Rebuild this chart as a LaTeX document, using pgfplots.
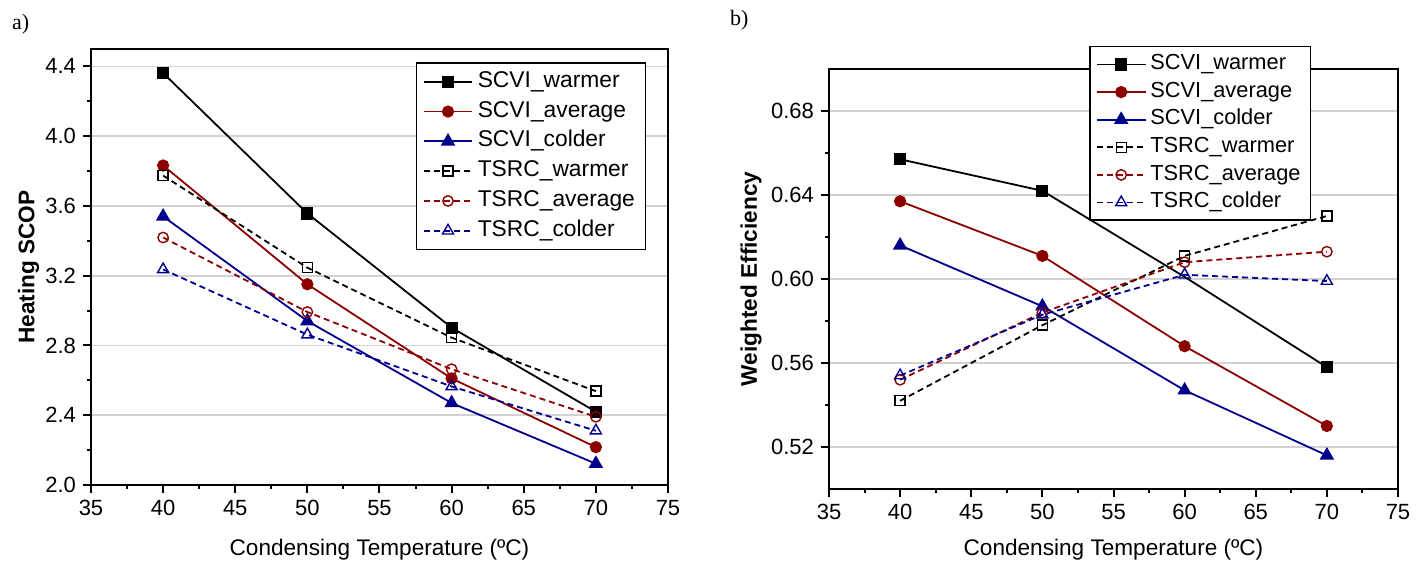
\documentclass[border=0pt]{standalone}
\usepackage{pgfplots}
\pgfplotsset{compat=1.18}
\usepackage{fontspec}
\setmainfont{Liberation Sans}
\newfontfamily\seriffont{Liberation Serif}
\definecolor{dred}{RGB}{140,0,0}
\definecolor{dblue}{RGB}{0,0,140}
\newcommand\tickfont{\fontsize{11}{13}\selectfont}
\newcommand\labfont{\fontsize{11.3}{13}\selectfont}

\pgfplotsset{
 myax/.style={
  scale only axis,
  anchor=south west,
  xmin=35,xmax=75, xtick={35,40,...,75},
  minor x tick num=1, minor y tick num=1,
  tick align=outside, xtick pos=bottom, ytick pos=left,
  major tick length=4pt, minor tick length=2pt,
  axis line style={line width=1.2pt},
  every tick/.style={black,line width=1pt},
  ymajorgrids, major grid style={gray!35,line width=0.8pt},
  xticklabel style={font=\tickfont},
  /pgf/number format/assume math mode=true,
  legend cell align=left,
  legend image code/.code={\draw[mark repeat=2,mark phase=2] plot coordinates {(0cm,0cm) (0.43cm,0cm) (0.86cm,0cm)};},
 },
 sw/.style={black, solid, line width=0.9pt, mark=square*, mark size=2.6pt},
 sa/.style={dred, solid, line width=0.9pt, mark=*, mark size=2.6pt},
 sc/.style={dblue, solid, line width=0.9pt, mark=triangle*, mark size=3.3pt},
 tw/.style={black, line width=0.9pt, dash pattern=on 3pt off 2pt, mark=square, mark size=2.5pt, mark options={solid,fill=white,line width=0.7pt}},
 ta/.style={dred, line width=0.9pt, dash pattern=on 3pt off 2pt, mark=o, mark size=2.6pt, mark options={solid,fill=white,line width=0.7pt}},
 tc/.style={dblue, line width=0.9pt, dash pattern=on 3pt off 2pt, mark=triangle, mark size=3.2pt, mark options={solid,fill=white,line width=0.7pt}},
}

\begin{document}
\begin{tikzpicture}
\useasboundingbox (0,0) rectangle (713pt,282.5pt);
\node[anchor=west,font=\seriffont\fontsize{11}{12}\selectfont] at (2.5pt,270.5pt) {a)};
\node[anchor=west,font=\seriffont\fontsize{11}{12}\selectfont] at (361.5pt,272.5pt) {b)};

\begin{axis}[myax,
  at={(45.5pt,40pt)}, width=288.5pt, height=218pt,
  ymin=2.0, ymax=4.5, ytick={2.0,2.4,...,4.41},
  yticklabel style={font=\tickfont,/pgf/number format/.cd,fixed,fixed zerofill,precision=1},
  xlabel={Condensing Temperature (ºC)},
  ylabel={Heating SCOP},
  every axis y label/.style={at={(axis description cs:-0.108,0.5)},rotate=90,anchor=center,font=\labfont\bfseries},
  every axis x label/.style={at={(axis description cs:0.5,-0.149)},anchor=center,font=\labfont},
  legend style={at={(axis description cs:0.563,0.970)},anchor=north west,
    draw=black,line width=0.8pt,fill=white,
    font=\fontsize{11.4}{13}\selectfont, row sep=0pt,
    nodes={text height=8pt,text depth=2.5pt,inner sep=2.2pt}},
]
\addplot[sw] coordinates {(40,4.362)(50,3.557)(60,2.902)(70,2.420)};
\addplot[sa] coordinates {(40,3.832)(50,3.151)(60,2.611)(70,2.217)};
\addplot[sc] coordinates {(40,3.540)(50,2.940)(60,2.470)(70,2.122)};
\addplot[tw] coordinates {(40,3.774)(50,3.246)(60,2.845)(70,2.538)};
\addplot[ta] coordinates {(40,3.419)(50,2.992)(60,2.664)(70,2.391)};
\addplot[tc] coordinates {(40,3.236)(50,2.862)(60,2.565)(70,2.311)};
\legend{SCVI\_warmer,SCVI\_average,SCVI\_colder,TSRC\_warmer,TSRC\_average,TSRC\_colder}
\end{axis}

\begin{axis}[myax,
  at={(414.5pt,38pt)}, width=284.5pt, height=210pt,
  ymin=0.50, ymax=0.70, ytick={0.52,0.56,...,0.681},
  yticklabel style={font=\tickfont,/pgf/number format/.cd,fixed,fixed zerofill,precision=2},
  xlabel={Condensing Temperature (ºC)},
  ylabel={Weighted Efficiency},
  every axis y label/.style={at={(axis description cs:-0.137,0.5)},rotate=90,anchor=center,font=\labfont\bfseries},
  every axis x label/.style={at={(axis description cs:0.5,-0.145)},anchor=center,font=\labfont},
  legend style={at={(axis description cs:0.457,1.055)},anchor=north west,
    draw=black,line width=0.8pt,fill=white,
    font=\fontsize{10.9}{12}\selectfont, row sep=0pt,
    nodes={text height=7.6pt,text depth=2.4pt,inner sep=1.9pt}},
]
\addlegendimage{sw}
\addplot[sw, mark indices={1,2,4}, forget plot] coordinates {(40,0.657)(50,0.642)(60,0.601)(70,0.558)};
\addplot[sa] coordinates {(40,0.637)(50,0.611)(60,0.568)(70,0.530)};
\addplot[sc] coordinates {(40,0.616)(50,0.587)(60,0.547)(70,0.516)};
\addplot[tw] coordinates {(40,0.542)(50,0.578)(60,0.611)(70,0.630)};
\addplot[ta] coordinates {(40,0.552)(50,0.584)(60,0.608)(70,0.613)};
\addplot[tc] coordinates {(40,0.554)(50,0.583)(60,0.602)(70,0.599)};
\legend{SCVI\_warmer,SCVI\_average,SCVI\_colder,TSRC\_warmer,TSRC\_average,TSRC\_colder}
\end{axis}
\end{tikzpicture}
\end{document}
